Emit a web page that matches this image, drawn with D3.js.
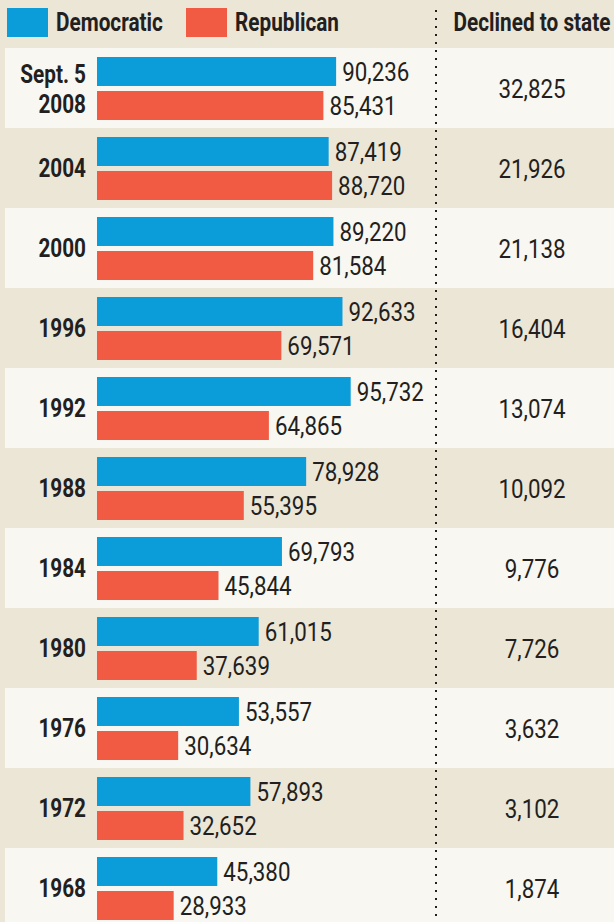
<!DOCTYPE html>
<html>
<head>
<meta charset="utf-8">
<script src="https://cdn.jsdelivr.net/npm/d3@7"></script>
<style>
  html, body { margin: 0; padding: 0; background: #ece6d7; }
  svg { display: block; }
</style>
</head>
<body>
<script>
// Registered voters by party
const years = ["Sept. 5|2008", "2004", "2000", "1996", "1992", "1988", "1984", "1980", "1976", "1972", "1968"];
const democratic = [90236, 87419, 89220, 92633, 95732, 78928, 69793, 61015, 53557, 57893, 45380];
const republican = [85431, 88720, 81584, 69571, 64865, 55395, 45844, 37639, 30634, 32652, 28933];
const declined = [32825, 21926, 21138, 16404, 13074, 10092, 9776, 7726, 3632, 3102, 1874];
const seriesNames = ["Democratic", "Republican"];

let width = 614;
let height = 922;
let headerHeight = 48;
let rowHeight = 80;

const blue = "#0b9dd9";
const red = "#f15a43";
const ink = "#231f20";
// squeeze Roboto so it looks like a condensed face
const narrowBold = 0.83;
const narrowReg = 0.86;

const rows = years.map((y, i) => ({
    year: y,
    dem: democratic[i],
    rep: republican[i],
    declined: declined[i]
}));

const y = d3.scaleBand()
    .domain(years)
    .range([headerHeight, headerHeight + rowHeight * years.length]);

const inner = d3.scaleBand()
    .domain(["dem", "rep"])
    .range([9, 72])
    .paddingInner(5 / 34);

const x = d3.scaleLinear()
    .domain([0, 100000])
    .range([97, 362]);

const fmt = d3.format(",");

const at = (px, py, s) => `translate(${px},${py}) scale(${s},1)`;

const svg = d3.select("body").append("svg")
    .attr("width", width)
    .attr("height", height)
    .attr("viewBox", [0, 0, width, height])
    .style("font-family", "Roboto, sans-serif");

svg.append("rect")
    .attr("width", width)
    .attr("height", height)
    .attr("fill", "#ece6d7");

// Alternate light rows
svg.append("g")
    .selectAll("rect")
    .data(rows.filter((d, i) => i % 2 === 0))
    .join("rect")
    .attr("x", 5)
    .attr("y", d => y(d.year))
    .attr("width", width - 5)
    .attr("height", y.bandwidth())
    .attr("fill", "#f8f7f2");

// Legend
const legend = svg.append("g");
const legendX = [7, 186];
seriesNames.forEach((name, i) => {
    legend.append("rect")
        .attr("x", legendX[i])
        .attr("y", 8)
        .attr("width", 41)
        .attr("height", 29)
        .attr("fill", i === 0 ? blue : red);
    legend.append("text")
        .attr("transform", at(legendX[i] + 49, 31, narrowBold))
        .attr("fill", ink)
        .attr("font-weight", "bold")
        .attr("font-size", 25)
        .text(name);
});

legend.append("text")
    .attr("transform", at(532, 31, narrowBold))
    .attr("text-anchor", "middle")
    .attr("fill", ink)
    .attr("font-weight", "bold")
    .attr("font-size", 25)
    .text("Declined to state");

// Dotted separator
svg.append("line")
    .attr("x1", 436)
    .attr("x2", 436)
    .attr("y1", 10)
    .attr("y2", height)
    .attr("stroke", ink)
    .attr("stroke-width", 2)
    .attr("stroke-dasharray", "2,6");

const row = svg.append("g")
    .selectAll("g")
    .data(rows)
    .join("g")
    .attr("transform", d => `translate(0,${y(d.year)})`);

// Year labels
row.each(function(d) {
    const parts = d.year.split("|");
    const startY = parts.length === 1 ? 49 : 35;
    parts.forEach((p, i) => {
        d3.select(this).append("text")
            .attr("transform", at(86, startY + i * 30, narrowBold))
            .attr("text-anchor", "end")
            .attr("fill", ink)
            .attr("font-weight", "bold")
            .attr("font-size", 25)
            .text(p);
    });
});

// Bars
row.append("rect")
    .attr("x", x(0))
    .attr("y", inner("dem"))
    .attr("width", d => x(d.dem) - x(0))
    .attr("height", inner.bandwidth())
    .attr("fill", blue);

row.append("rect")
    .attr("x", x(0))
    .attr("y", inner("rep"))
    .attr("width", d => x(d.rep) - x(0))
    .attr("height", inner.bandwidth())
    .attr("fill", red);

// Value labels
row.append("text")
    .attr("transform", d => at(x(d.dem) + 6, inner("dem") + inner.bandwidth() / 2 + 9.5, narrowReg))
    .attr("fill", ink)
    .attr("font-size", 26)
    .text(d => fmt(d.dem));

row.append("text")
    .attr("transform", d => at(x(d.rep) + 6, inner("rep") + inner.bandwidth() / 2 + 9.5, narrowReg))
    .attr("fill", ink)
    .attr("font-size", 26)
    .text(d => fmt(d.rep));

// Declined to state
row.append("text")
    .attr("transform", at(532, y.bandwidth() / 2 + 10, narrowReg))
    .attr("text-anchor", "middle")
    .attr("fill", ink)
    .attr("font-size", 26)
    .text(d => fmt(d.declined));
</script>
</body>
</html>
